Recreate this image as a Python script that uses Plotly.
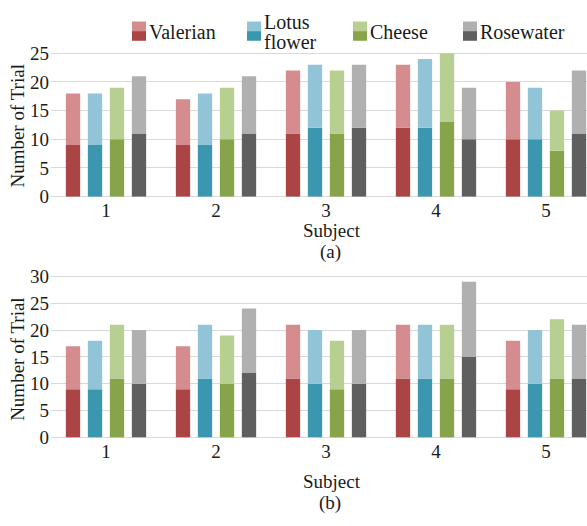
import plotly.graph_objects as go

W, H = 587, 526

subjects = ["1", "2", "3", "4", "5"]
scents = ["Valerian", "Lotus flower", "Cheese", "Rosewater"]

# Panel (a): total trials and lower (dark) portion
val_a_total = [18, 17, 22, 23, 20]
val_a_low = [9, 9, 11, 12, 10]
lot_a_total = [18, 18, 23, 24, 19]
lot_a_low = [9, 9, 12, 12, 10]
che_a_total = [19, 19, 22, 25, 15]
che_a_low = [10, 10, 11, 13, 8]
ros_a_total = [21, 21, 23, 19, 22]
ros_a_low = [11, 11, 12, 10, 11]

# Panel (b)
val_b_total = [17, 17, 21, 21, 18]
val_b_low = [9, 9, 11, 11, 9]
lot_b_total = [18, 21, 20, 21, 20]
lot_b_low = [9, 11, 10, 11, 10]
che_b_total = [21, 19, 18, 21, 22]
che_b_low = [11, 10, 9, 11, 11]
ros_b_total = [20, 24, 20, 29, 21]
ros_b_low = [10, 12, 10, 15, 11]

dark_colors = ["#AA4445", "#3B97AF", "#87A44B", "#5F5F5F"]
light_colors = ["#D48C8E", "#92C4D8", "#B8CF92", "#B0B0B0"]

panel_a = [(val_a_low, val_a_total), (lot_a_low, lot_a_total),
           (che_a_low, che_a_total), (ros_a_low, ros_a_total)]
panel_b = [(val_b_low, val_b_total), (lot_b_low, lot_b_total),
           (che_b_low, che_b_total), (ros_b_low, ros_b_total)]

FONT = "Liberation Serif"
TXT = "#1a1a1a"

fig = go.Figure()
for panel, xa, ya in [(panel_a, "x", "y"), (panel_b, "x2", "y2")]:
    for i, (low, total) in enumerate(panel):
        upper = [t - l for t, l in zip(total, low)]
        fig.add_trace(go.Bar(x=subjects, y=low, base=[0] * len(low),
                             offsetgroup=scents[i], alignmentgroup=xa,
                             marker=dict(color=dark_colors[i], line=dict(width=0)),
                             name=scents[i], showlegend=False, xaxis=xa, yaxis=ya))
        fig.add_trace(go.Bar(x=subjects, y=upper, base=low,
                             offsetgroup=scents[i], alignmentgroup=xa,
                             marker=dict(color=light_colors[i], line=dict(width=0)),
                             name=scents[i], showlegend=False, xaxis=xa, yaxis=ya))


def px(x):
    return x / W


def py(y):
    return 1 - y / H


x_left = 51
x_range = [-0.5, -0.5 + (W - x_left) / 110.0]

axis_common = dict(showgrid=False, ticks="", showline=False, zeroline=False,
                   tickfont=dict(family=FONT, size=19, color=TXT),
                   ticklabelstandoff=0)
yaxis_common = dict(showgrid=True, gridcolor="#D9D9D9", gridwidth=1, ticks="",
                    zeroline=True, zerolinecolor="#D9D9D9", zerolinewidth=1,
                    showline=False, dtick=5,
                    tickfont=dict(family=FONT, size=19, color=TXT),
                    ticklabelstandoff=1)

# panel (a): 0 at y=195.7, 5.95 px/unit
a_bottom, a_scale, a_top_val = 195.7, 5.95, 26.0
# panel (b): 0 at y=445.7, 5.58 px/unit
b_bottom, b_scale, b_top_val = 445.7, 5.58, 30.5

fig.update_layout(
    width=W, height=H,
    margin=dict(l=0, r=0, t=0, b=0),
    paper_bgcolor="white", plot_bgcolor="white",
    barmode="group", bargap=0.2, bargroupgap=0.35,
    showlegend=False,
    font=dict(family=FONT, color=TXT),
    xaxis=dict(domain=[px(x_left), 1], range=x_range, type="category",
               anchor="y", **axis_common),
    yaxis=dict(domain=[py(a_bottom), py(a_bottom - a_top_val * a_scale)],
               range=[0, a_top_val], anchor="x",
               tickvals=[0, 5, 10, 15, 20, 25], **yaxis_common),
    xaxis2=dict(domain=[px(x_left), 1], range=x_range, type="category",
                anchor="y2", **axis_common),
    yaxis2=dict(domain=[py(b_bottom), py(b_bottom - b_top_val * b_scale)],
                range=[0, b_top_val], anchor="x2",
                tickvals=[0, 5, 10, 15, 20, 25, 30], **yaxis_common),
)

annotations = []


def add_text(text, x, y, size=19, angle=0, xanchor="center"):
    annotations.append(dict(text=text, x=px(x), y=py(y), xref="paper", yref="paper",
                            showarrow=False, xanchor=xanchor, yanchor="middle",
                            textangle=angle,
                            font=dict(family=FONT, size=size, color=TXT)))


add_text("Subject", 332, 231)
add_text("(a)", 330, 253)
add_text("Number of Trial", 18, 122, angle=-90)
add_text("Subject", 332, 491)
add_text("(b)", 330, 514)
add_text("Number of Trial", 18, 364, angle=-90)

# legend (drawn manually to show two-tone swatches)
legend_items = [
    (132, ["Valerian"], [25]),
    (247, ["Lotus", "flower"], [15, 35]),
    (353, ["Cheese"], [25]),
    (463, ["Rosewater"], [25]),
]
shapes = []
for i, (sx, texts, ys) in enumerate(legend_items):
    shapes.append(dict(type="rect", xref="paper", yref="paper",
                       x0=px(sx), x1=px(sx + 14), y0=py(24), y1=py(14),
                       fillcolor=light_colors[i], line=dict(width=0)))
    shapes.append(dict(type="rect", xref="paper", yref="paper",
                       x0=px(sx), x1=px(sx + 14), y0=py(34), y1=py(24),
                       fillcolor=dark_colors[i], line=dict(width=0)))
    for t, ty in zip(texts, ys):
        add_text(t, sx + 15, ty, size=20, xanchor="left")

fig.update_layout(annotations=annotations, shapes=shapes)
fig.write_html("out.html", config={"displayModeBar": False},
               post_script="document.body.style.margin='0';document.body.style.padding='0';")
